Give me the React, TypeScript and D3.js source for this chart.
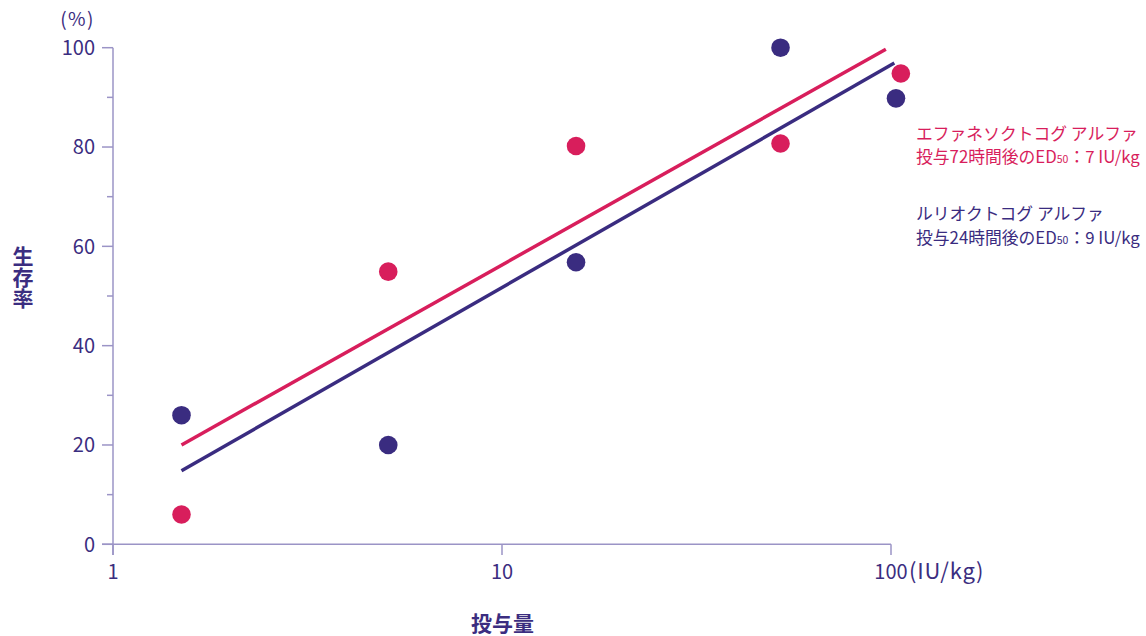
import React from "react";
import * as d3 from "d3";

const doses = [1.5, 5.1, 15.5, 52, 103];
const dosesPink = [1.5, 5.1, 15.5, 52, 106];
const bluePoints = [26, 20, 56.8, 100, 89.8];
const pinkPoints = [6, 54.9, 80.2, 80.7, 94.8];
const pinkLineX = [1.5, 97];
const pinkLineY = [20, 99.7];
const blueLineX = [1.5, 102];
const blueLineY = [14.8, 96.9];
const yTicks = [0, 20, 40, 60, 80, 100];
const yMinor = [10, 30, 50, 70, 90];
const xTicks = [1, 10, 100];

const PINK = "#d81e5c";
const BLUE = "#3a2c80";
const AXIS = "#9b94c6";
const TEXT = "#3b2d80";
const FONT = "'Noto Sans CJK JP', 'Noto Sans', sans-serif";

export default function App() {
  const x = d3.scaleLog().domain([1, 100]).range([113, 891]);
  const y = d3.scaleLinear().domain([0, 100]).range([544.3, 47.7]);
  const line = d3
    .line<[number, number]>()
    .x((d) => x(d[0]))
    .y((d) => y(d[1]));
  const pinkLine = pinkLineX.map((v, i) => [v, pinkLineY[i]] as [number, number]);
  const blueLine = blueLineX.map((v, i) => [v, blueLineY[i]] as [number, number]);

  return (
    <svg width={1146} height={636} style={{ position: "absolute", left: 0, top: 0 }} fontFamily={FONT}>
      {/* axes */}
      <line x1={x(1)} x2={x(1)} y1={y(100)} y2={555} stroke={AXIS} strokeWidth={1.5} />
      <line x1={102} x2={x(100)} y1={y(0)} y2={y(0)} stroke={AXIS} strokeWidth={1.5} />
      {yTicks.map((t) => (
        <g key={"y" + t}>
          <line x1={102} x2={x(1)} y1={y(t)} y2={y(t)} stroke={AXIS} strokeWidth={1.5} />
          <text x={95} y={y(t)} dy="0.36em" textAnchor="end" fontSize={20} fill={TEXT}>
            {t}
          </text>
        </g>
      ))}
      {yMinor.map((t) => (
        <line key={"m" + t} x1={107} x2={x(1)} y1={y(t)} y2={y(t)} stroke={AXIS} strokeWidth={1.5} />
      ))}
      {xTicks.map((t) => (
        <g key={"x" + t}>
          <line x1={x(t)} x2={x(t)} y1={y(0)} y2={555} stroke={AXIS} strokeWidth={1.5} />
          <text x={x(t)} y={579} textAnchor="middle" fontSize={20} fill={TEXT}>
            {t}
          </text>
        </g>
      ))}
      <text x={909} y={579} fontSize={22} letterSpacing={0.8} fill={TEXT}>
        (IU/kg)
      </text>
      <text x={95} y={26} textAnchor="end" fontSize={19} letterSpacing={1.5} fill={TEXT}>
        (%)
      </text>
      {/* axis titles */}
      <text
        x={23}
        y={277}
        textAnchor="middle"
        fontSize={21}
        fontWeight="bold"
        fill={TEXT}
        style={{ writingMode: "vertical-rl" }}
      >
        生存率
      </text>
      <text x={502.5} y={631} textAnchor="middle" fontSize={21} fontWeight="bold" fill={TEXT}>
        投与量
      </text>

      {/* regression lines */}
      <path d={line(pinkLine) || ""} stroke={PINK} strokeWidth={3.5} fill="none" />
      <path d={line(blueLine) || ""} stroke={BLUE} strokeWidth={3.5} fill="none" />

      {/* points */}
      {bluePoints.map((v, i) => (
        <circle key={"b" + i} cx={x(doses[i])} cy={y(v)} r={9.3} fill={BLUE} />
      ))}
      {pinkPoints.map((v, i) => (
        <circle key={"p" + i} cx={x(dosesPink[i])} cy={y(v)} r={9.3} fill={PINK} />
      ))}

      {/* legend */}
      <g fontSize={16.8}>
        <text x={916} y={140} fill={PINK}>エファネソクトコグ アルファ</text>
        <text x={916} y={163} fill={PINK}>
          投与72時間後のED<tspan fontSize={10.5}>50</tspan>：7 IU/kg
        </text>
        <text x={916} y={220} fill={BLUE}>ルリオクトコグ アルファ</text>
        <text x={916} y={244} fill={BLUE}>
          投与24時間後のED<tspan fontSize={10.5}>50</tspan>：9 IU/kg
        </text>
      </g>
    </svg>
  );
}
